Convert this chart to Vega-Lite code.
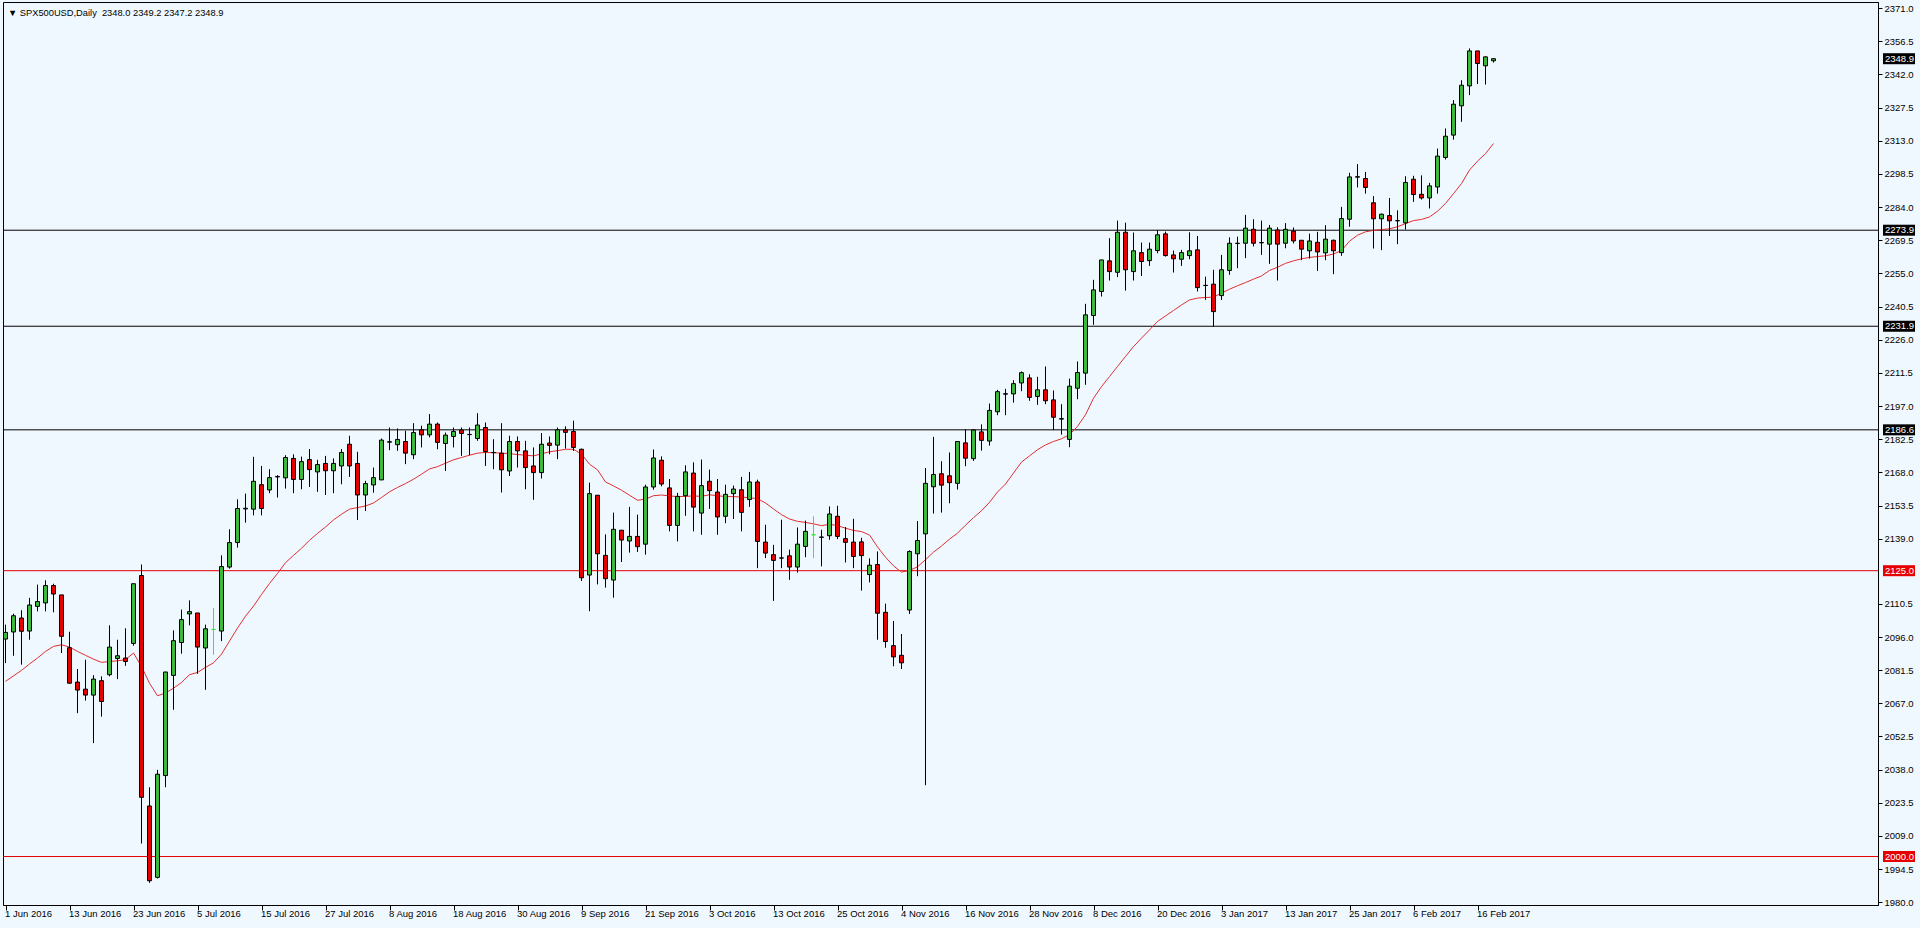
{
  "$schema": "https://vega.github.io/schema/vega-lite/v6.json",
  "width": 1875,
  "height": 903,
  "autosize": {"type": "none"},
  "padding": {"left": 3, "top": 2, "right": 42, "bottom": 23},
  "background": "#F0F8FF",
  "config": {
    "view": {"stroke": "black", "strokeWidth": 1, "fill": "#F0F8FF"},
    "font": "Liberation Sans",
    "scale": {"continuousPadding": 0},
    "axis": {"title": null, "grid": false, "labelOverlap": false, "labelSeparation": 0, "labelFlush": false}
  },
  "title": {
    "text": "▼ SPX500USD,Daily\u00a0\u00a02348.0 2349.2 2347.2 2348.9",
    "anchor": "start",
    "frame": "group",
    "orient": "top",
    "baseline": "top",
    "offset": -16,
    "dx": 5,
    "font": "Liberation Sans",
    "fontSize": 9.3,
    "fontWeight": "normal",
    "color": "black"
  },
  "datasets": {
    "bars": [
      {"i":0,"o":2095.1,"h":2101.4,"l":2084.6,"c":2098.0,"ma":2076.6},
      {"i":1,"o":2098.2,"h":2106.2,"l":2087.8,"c":2105.3,"ma":2079.0},
      {"i":2,"o":2104.3,"h":2107.7,"l":2083.9,"c":2098.5,"ma":2081.4},
      {"i":3,"o":2098.6,"h":2113.1,"l":2094.8,"c":2110.0,"ma":2084.2},
      {"i":4,"o":2109.4,"h":2118.9,"l":2107.2,"c":2111.5,"ma":2086.8},
      {"i":5,"o":2110.9,"h":2120.8,"l":2107.2,"c":2118.5,"ma":2089.7},
      {"i":6,"o":2118.5,"h":2119.3,"l":2106.8,"c":2114.8,"ma":2091.9},
      {"i":7,"o":2114.4,"h":2114.4,"l":2089.0,"c":2096.3,"ma":2092.6},
      {"i":8,"o":2091.3,"h":2098.3,"l":2075.5,"c":2075.8,"ma":2091.6},
      {"i":9,"o":2076.3,"h":2082.0,"l":2062.7,"c":2072.8,"ma":2089.7},
      {"i":10,"o":2073.2,"h":2086.1,"l":2068.2,"c":2070.6,"ma":2088.0},
      {"i":11,"o":2070.6,"h":2079.3,"l":2049.6,"c":2077.6,"ma":2086.3},
      {"i":12,"o":2076.9,"h":2078.8,"l":2061.2,"c":2067.8,"ma":2084.9},
      {"i":13,"o":2079.5,"h":2101.1,"l":2078.8,"c":2091.6,"ma":2085.3},
      {"i":14,"o":2086.6,"h":2094.8,"l":2077.6,"c":2087.8,"ma":2085.6},
      {"i":15,"o":2086.8,"h":2099.8,"l":2083.4,"c":2085.3,"ma":2086.1},
      {"i":16,"o":2093.2,"h":2119.3,"l":2092.2,"c":2119.3,"ma":2089.0},
      {"i":17,"o":2122.9,"h":2127.7,"l":2005.7,"c":2025.9,"ma":2083.1},
      {"i":18,"o":2022.1,"h":2030.3,"l":1988.5,"c":1989.4,"ma":2075.8},
      {"i":19,"o":1990.9,"h":2037.9,"l":1990.4,"c":2036.0,"ma":2070.3},
      {"i":20,"o":2035.4,"h":2080.7,"l":2030.3,"c":2080.7,"ma":2071.5},
      {"i":21,"o":2079.2,"h":2098.9,"l":2064.2,"c":2094.4,"ma":2073.6},
      {"i":22,"o":2093.6,"h":2108.0,"l":2088.7,"c":2103.6,"ma":2076.1},
      {"i":23,"o":2106.1,"h":2112.0,"l":2101.1,"c":2107.1,"ma":2079.5},
      {"i":24,"o":2106.5,"h":2106.5,"l":2079.9,"c":2091.6,"ma":2080.5},
      {"i":25,"o":2091.2,"h":2101.4,"l":2072.9,"c":2099.6,"ma":2082.7},
      {"i":26,"o":2099.3,"h":2108.7,"l":2088.2,"c":2099.3,"ma":2084.7},
      {"i":27,"o":2098.6,"h":2131.7,"l":2094.2,"c":2126.8,"ma":2088.5},
      {"i":28,"o":2126.6,"h":2143.1,"l":2125.9,"c":2137.3,"ma":2094.2},
      {"i":29,"o":2137.3,"h":2156.2,"l":2135.1,"c":2152.2,"ma":2099.9},
      {"i":30,"o":2152.0,"h":2158.7,"l":2146.0,"c":2152.3,"ma":2105.1},
      {"i":31,"o":2151.9,"h":2174.8,"l":2149.2,"c":2164.1,"ma":2109.5},
      {"i":32,"o":2162.6,"h":2170.8,"l":2149.2,"c":2152.2,"ma":2114.6},
      {"i":33,"o":2160.3,"h":2169.4,"l":2158.9,"c":2165.7,"ma":2119.4},
      {"i":34,"o":2166.0,"h":2166.8,"l":2157.0,"c":2166.2,"ma":2123.8},
      {"i":35,"o":2165.6,"h":2175.5,"l":2160.9,"c":2174.5,"ma":2128.5},
      {"i":36,"o":2174.1,"h":2175.9,"l":2158.9,"c":2164.9,"ma":2131.7},
      {"i":37,"o":2164.9,"h":2174.9,"l":2160.6,"c":2172.7,"ma":2134.8},
      {"i":38,"o":2173.6,"h":2178.2,"l":2161.6,"c":2169.2,"ma":2138.3},
      {"i":39,"o":2168.2,"h":2173.5,"l":2159.5,"c":2171.4,"ma":2141.3},
      {"i":40,"o":2171.9,"h":2175.2,"l":2158.1,"c":2168.7,"ma":2144.1},
      {"i":41,"o":2168.7,"h":2174.1,"l":2158.9,"c":2171.9,"ma":2147.2},
      {"i":42,"o":2170.8,"h":2178.2,"l":2162.8,"c":2176.7,"ma":2149.7},
      {"i":43,"o":2180.3,"h":2184.0,"l":2166.0,"c":2170.8,"ma":2151.9},
      {"i":44,"o":2171.9,"h":2177.0,"l":2147.2,"c":2158.1,"ma":2152.6},
      {"i":45,"o":2158.1,"h":2164.3,"l":2151.1,"c":2163.1,"ma":2153.3},
      {"i":46,"o":2162.5,"h":2170.1,"l":2159.1,"c":2165.7,"ma":2154.6},
      {"i":47,"o":2164.7,"h":2182.8,"l":2164.7,"c":2182.1,"ma":2157.0},
      {"i":48,"o":2181.2,"h":2187.6,"l":2177.7,"c":2181.4,"ma":2159.5},
      {"i":49,"o":2180.1,"h":2187.2,"l":2177.4,"c":2182.4,"ma":2161.4},
      {"i":50,"o":2181.5,"h":2186.2,"l":2171.6,"c":2176.4,"ma":2163.1},
      {"i":51,"o":2175.7,"h":2189.5,"l":2173.8,"c":2185.4,"ma":2165.0},
      {"i":52,"o":2186.6,"h":2188.4,"l":2178.9,"c":2184.4,"ma":2167.2},
      {"i":53,"o":2184.4,"h":2193.5,"l":2183.3,"c":2189.1,"ma":2169.5},
      {"i":54,"o":2189.1,"h":2189.8,"l":2178.1,"c":2181.1,"ma":2170.5},
      {"i":55,"o":2180.6,"h":2185.4,"l":2168.6,"c":2184.3,"ma":2172.0},
      {"i":56,"o":2183.7,"h":2187.6,"l":2178.9,"c":2185.9,"ma":2173.5},
      {"i":57,"o":2186.5,"h":2187.6,"l":2175.2,"c":2185.0,"ma":2174.5},
      {"i":58,"o":2184.6,"h":2187.6,"l":2175.5,"c":2184.5,"ma":2175.5},
      {"i":59,"o":2182.8,"h":2193.9,"l":2181.8,"c":2188.7,"ma":2176.4},
      {"i":60,"o":2187.6,"h":2189.8,"l":2170.8,"c":2177.1,"ma":2176.7},
      {"i":61,"o":2176.7,"h":2182.5,"l":2169.4,"c":2176.6,"ma":2176.6},
      {"i":62,"o":2176.4,"h":2189.5,"l":2159.2,"c":2169.1,"ma":2176.4},
      {"i":63,"o":2168.6,"h":2184.0,"l":2166.4,"c":2181.5,"ma":2176.2},
      {"i":64,"o":2181.5,"h":2183.7,"l":2170.1,"c":2177.4,"ma":2175.8},
      {"i":65,"o":2177.4,"h":2181.8,"l":2160.6,"c":2170.1,"ma":2175.5},
      {"i":66,"o":2170.8,"h":2178.9,"l":2156.0,"c":2167.9,"ma":2175.2},
      {"i":67,"o":2167.9,"h":2185.2,"l":2165.3,"c":2180.3,"ma":2176.1},
      {"i":68,"o":2180.8,"h":2183.7,"l":2175.9,"c":2179.8,"ma":2177.0},
      {"i":69,"o":2179.9,"h":2187.6,"l":2173.8,"c":2186.6,"ma":2177.5},
      {"i":70,"o":2186.6,"h":2188.1,"l":2178.4,"c":2185.5,"ma":2178.1},
      {"i":71,"o":2185.9,"h":2190.6,"l":2177.4,"c":2178.9,"ma":2178.1},
      {"i":72,"o":2178.1,"h":2178.4,"l":2120.5,"c":2121.9,"ma":2176.0},
      {"i":73,"o":2123.1,"h":2163.5,"l":2107.3,"c":2158.7,"ma":2171.6},
      {"i":74,"o":2158.0,"h":2158.0,"l":2119.0,"c":2132.4,"ma":2169.1},
      {"i":75,"o":2131.7,"h":2140.9,"l":2117.6,"c":2121.5,"ma":2163.8},
      {"i":76,"o":2120.9,"h":2150.4,"l":2113.2,"c":2143.1,"ma":2162.1},
      {"i":77,"o":2142.7,"h":2142.7,"l":2128.8,"c":2138.4,"ma":2160.2},
      {"i":78,"o":2138.0,"h":2152.9,"l":2132.9,"c":2140.0,"ma":2158.0},
      {"i":79,"o":2140.0,"h":2149.5,"l":2133.2,"c":2135.5,"ma":2155.8},
      {"i":80,"o":2136.6,"h":2162.6,"l":2132.0,"c":2161.6,"ma":2156.3},
      {"i":81,"o":2161.6,"h":2178.0,"l":2160.4,"c":2174.3,"ma":2157.8},
      {"i":82,"o":2173.3,"h":2175.0,"l":2161.9,"c":2162.9,"ma":2158.1},
      {"i":83,"o":2161.2,"h":2165.1,"l":2142.2,"c":2144.8,"ma":2157.7},
      {"i":84,"o":2144.8,"h":2159.0,"l":2137.8,"c":2157.5,"ma":2157.4},
      {"i":85,"o":2157.8,"h":2171.1,"l":2149.0,"c":2168.2,"ma":2157.5},
      {"i":86,"o":2167.7,"h":2172.4,"l":2142.2,"c":2152.8,"ma":2157.7},
      {"i":87,"o":2150.2,"h":2173.6,"l":2140.7,"c":2162.2,"ma":2157.5},
      {"i":88,"o":2164.1,"h":2169.2,"l":2152.0,"c":2160.0,"ma":2158.2},
      {"i":89,"o":2159.4,"h":2165.1,"l":2140.7,"c":2148.5,"ma":2157.8},
      {"i":90,"o":2148.8,"h":2162.6,"l":2145.8,"c":2158.4,"ma":2157.4},
      {"i":91,"o":2158.7,"h":2162.2,"l":2147.6,"c":2160.7,"ma":2157.4},
      {"i":92,"o":2160.4,"h":2166.0,"l":2142.2,"c":2150.5,"ma":2157.2},
      {"i":93,"o":2156.1,"h":2168.2,"l":2152.9,"c":2163.8,"ma":2156.9},
      {"i":94,"o":2163.8,"h":2164.8,"l":2126.1,"c":2137.8,"ma":2156.5},
      {"i":95,"o":2137.5,"h":2145.1,"l":2130.5,"c":2132.7,"ma":2154.6},
      {"i":96,"o":2132.0,"h":2136.3,"l":2111.8,"c":2129.5,"ma":2152.0},
      {"i":97,"o":2130.5,"h":2147.3,"l":2126.1,"c":2130.6,"ma":2149.5},
      {"i":98,"o":2131.5,"h":2134.2,"l":2121.0,"c":2126.6,"ma":2147.6},
      {"i":99,"o":2126.6,"h":2143.9,"l":2124.2,"c":2136.6,"ma":2146.6},
      {"i":100,"o":2135.6,"h":2146.9,"l":2130.9,"c":2142.2,"ma":2146.1},
      {"i":101,"o":2140.7,"h":2148.8,"l":2130.5,"c":2140.7,"ma":2145.5},
      {"i":102,"o":2139.7,"h":2142.9,"l":2126.9,"c":2139.6,"ma":2144.7},
      {"i":103,"o":2140.3,"h":2153.1,"l":2138.5,"c":2149.8,"ma":2145.3},
      {"i":104,"o":2148.8,"h":2153.4,"l":2138.8,"c":2140.0,"ma":2144.7},
      {"i":105,"o":2139.0,"h":2144.1,"l":2128.6,"c":2137.4,"ma":2143.6},
      {"i":106,"o":2137.5,"h":2147.7,"l":2126.1,"c":2131.2,"ma":2142.6},
      {"i":107,"o":2137.6,"h":2139.4,"l":2116.3,"c":2131.6,"ma":2142.1},
      {"i":108,"o":2123.3,"h":2130.4,"l":2119.9,"c":2127.4,"ma":2140.6},
      {"i":109,"o":2127.7,"h":2133.4,"l":2094.8,"c":2106.4,"ma":2135.4},
      {"i":110,"o":2106.8,"h":2110.6,"l":2091.3,"c":2094.0,"ma":2130.9},
      {"i":111,"o":2092.2,"h":2103.0,"l":2083.2,"c":2087.3,"ma":2127.1},
      {"i":112,"o":2088.0,"h":2097.3,"l":2082.0,"c":2084.7,"ma":2124.4},
      {"i":113,"o":2107.8,"h":2133.9,"l":2106.1,"c":2133.4,"ma":2125.1},
      {"i":114,"o":2132.4,"h":2146.7,"l":2122.6,"c":2138.2,"ma":2126.7},
      {"i":115,"o":2141.1,"h":2169.9,"l":2031.2,"c":2163.2,"ma":2129.8},
      {"i":116,"o":2161.7,"h":2183.5,"l":2150.0,"c":2167.1,"ma":2133.1},
      {"i":117,"o":2167.4,"h":2172.9,"l":2150.4,"c":2162.4,"ma":2135.8},
      {"i":118,"o":2166.5,"h":2176.7,"l":2154.5,"c":2163.5,"ma":2138.8},
      {"i":119,"o":2163.2,"h":2181.5,"l":2160.5,"c":2181.5,"ma":2141.4},
      {"i":120,"o":2180.9,"h":2186.9,"l":2170.7,"c":2174.2,"ma":2144.9},
      {"i":121,"o":2174.0,"h":2186.9,"l":2173.0,"c":2186.5,"ma":2148.2},
      {"i":122,"o":2185.7,"h":2189.0,"l":2177.5,"c":2182.0,"ma":2151.2},
      {"i":123,"o":2181.7,"h":2198.1,"l":2179.7,"c":2195.1,"ma":2154.9},
      {"i":124,"o":2194.5,"h":2204.1,"l":2193.0,"c":2203.3,"ma":2159.4},
      {"i":125,"o":2202.2,"h":2204.5,"l":2193.0,"c":2202.4,"ma":2162.9},
      {"i":126,"o":2202.3,"h":2208.3,"l":2198.5,"c":2206.8,"ma":2167.7},
      {"i":127,"o":2207.1,"h":2212.1,"l":2203.5,"c":2211.6,"ma":2172.5},
      {"i":128,"o":2209.3,"h":2210.9,"l":2199.3,"c":2200.8,"ma":2175.2},
      {"i":129,"o":2201.2,"h":2209.8,"l":2197.5,"c":2204.1,"ma":2177.9},
      {"i":130,"o":2204.1,"h":2214.3,"l":2197.8,"c":2199.3,"ma":2180.0},
      {"i":131,"o":2199.7,"h":2203.8,"l":2186.5,"c":2192.1,"ma":2181.5},
      {"i":132,"o":2191.3,"h":2197.8,"l":2184.5,"c":2191.5,"ma":2182.7},
      {"i":133,"o":2182.4,"h":2209.0,"l":2179.0,"c":2205.7,"ma":2184.5},
      {"i":134,"o":2204.8,"h":2216.5,"l":2200.0,"c":2211.7,"ma":2188.1},
      {"i":135,"o":2211.4,"h":2241.7,"l":2206.3,"c":2236.9,"ma":2193.2},
      {"i":136,"o":2236.6,"h":2252.2,"l":2232.5,"c":2247.8,"ma":2200.4},
      {"i":137,"o":2247.1,"h":2260.9,"l":2244.9,"c":2260.9,"ma":2205.5},
      {"i":138,"o":2260.5,"h":2270.4,"l":2251.9,"c":2255.8,"ma":2209.9},
      {"i":139,"o":2255.5,"h":2278.1,"l":2253.4,"c":2273.0,"ma":2214.3},
      {"i":140,"o":2273.0,"h":2277.2,"l":2247.5,"c":2256.6,"ma":2218.7},
      {"i":141,"o":2255.8,"h":2272.9,"l":2251.9,"c":2264.9,"ma":2223.0},
      {"i":142,"o":2264.1,"h":2268.5,"l":2253.9,"c":2260.2,"ma":2226.7},
      {"i":143,"o":2260.6,"h":2268.5,"l":2258.3,"c":2265.6,"ma":2230.3},
      {"i":144,"o":2265.0,"h":2274.0,"l":2263.8,"c":2271.9,"ma":2234.0},
      {"i":145,"o":2272.3,"h":2273.3,"l":2262.4,"c":2262.8,"ma":2236.4},
      {"i":146,"o":2263.1,"h":2265.0,"l":2255.4,"c":2261.4,"ma":2238.8},
      {"i":147,"o":2261.2,"h":2265.3,"l":2258.3,"c":2264.1,"ma":2241.2},
      {"i":148,"o":2262.8,"h":2273.0,"l":2261.2,"c":2264.9,"ma":2243.4},
      {"i":149,"o":2265.3,"h":2271.4,"l":2247.1,"c":2248.8,"ma":2244.2},
      {"i":150,"o":2249.8,"h":2253.6,"l":2243.4,"c":2249.7,"ma":2244.5},
      {"i":151,"o":2250.3,"h":2256.6,"l":2231.8,"c":2238.3,"ma":2244.6},
      {"i":152,"o":2245.3,"h":2263.1,"l":2243.4,"c":2256.6,"ma":2246.4},
      {"i":153,"o":2256.3,"h":2270.8,"l":2254.4,"c":2268.2,"ma":2248.1},
      {"i":154,"o":2268.1,"h":2271.1,"l":2257.3,"c":2268.2,"ma":2249.6},
      {"i":155,"o":2268.2,"h":2280.6,"l":2261.7,"c":2274.8,"ma":2251.0},
      {"i":156,"o":2274.3,"h":2278.7,"l":2266.8,"c":2268.2,"ma":2252.5},
      {"i":157,"o":2268.4,"h":2278.1,"l":2263.1,"c":2268.5,"ma":2253.9},
      {"i":158,"o":2267.8,"h":2276.2,"l":2259.2,"c":2274.8,"ma":2256.3},
      {"i":159,"o":2274.0,"h":2275.2,"l":2251.9,"c":2267.8,"ma":2257.7},
      {"i":160,"o":2268.2,"h":2277.0,"l":2266.0,"c":2274.3,"ma":2259.4},
      {"i":161,"o":2273.5,"h":2275.1,"l":2268.1,"c":2269.2,"ma":2260.5},
      {"i":162,"o":2269.5,"h":2269.5,"l":2260.8,"c":2265.6,"ma":2261.4},
      {"i":163,"o":2264.9,"h":2272.4,"l":2261.5,"c":2269.2,"ma":2262.0},
      {"i":164,"o":2268.6,"h":2273.2,"l":2256.1,"c":2264.4,"ma":2262.4},
      {"i":165,"o":2264.0,"h":2276.1,"l":2260.8,"c":2270.0,"ma":2262.7},
      {"i":166,"o":2269.5,"h":2269.8,"l":2254.7,"c":2264.9,"ma":2263.5},
      {"i":167,"o":2264.1,"h":2284.1,"l":2262.7,"c":2279.0,"ma":2265.0},
      {"i":168,"o":2278.7,"h":2299.0,"l":2275.4,"c":2297.2,"ma":2269.1},
      {"i":169,"o":2297.1,"h":2302.8,"l":2292.6,"c":2297.3,"ma":2271.7},
      {"i":170,"o":2296.5,"h":2299.4,"l":2289.9,"c":2292.6,"ma":2273.2},
      {"i":171,"o":2285.9,"h":2288.8,"l":2265.9,"c":2278.9,"ma":2273.8},
      {"i":172,"o":2278.9,"h":2281.2,"l":2265.2,"c":2280.9,"ma":2274.2},
      {"i":173,"o":2280.3,"h":2288.0,"l":2271.4,"c":2278.0,"ma":2274.5},
      {"i":174,"o":2278.0,"h":2282.6,"l":2267.8,"c":2278.1,"ma":2275.4},
      {"i":175,"o":2277.1,"h":2297.5,"l":2274.2,"c":2294.8,"ma":2276.8},
      {"i":176,"o":2296.2,"h":2297.7,"l":2286.3,"c":2289.5,"ma":2278.1},
      {"i":177,"o":2289.6,"h":2297.9,"l":2287.3,"c":2288.0,"ma":2278.6},
      {"i":178,"o":2288.0,"h":2294.6,"l":2283.4,"c":2293.3,"ma":2279.7},
      {"i":179,"o":2292.8,"h":2309.6,"l":2289.9,"c":2306.3,"ma":2282.2},
      {"i":180,"o":2305.7,"h":2318.4,"l":2304.8,"c":2315.0,"ma":2285.6},
      {"i":181,"o":2315.5,"h":2330.8,"l":2313.5,"c":2329.0,"ma":2289.9},
      {"i":182,"o":2328.3,"h":2339.5,"l":2321.3,"c":2337.3,"ma":2294.3},
      {"i":183,"o":2337.0,"h":2353.4,"l":2333.0,"c":2352.3,"ma":2300.2},
      {"i":184,"o":2352.3,"h":2352.3,"l":2337.8,"c":2346.8,"ma":2304.1},
      {"i":185,"o":2345.8,"h":2350.0,"l":2337.6,"c":2349.7,"ma":2307.4},
      {"i":186,"o":2348.0,"h":2349.2,"l":2347.2,"c":2348.9,"ma":2311.8}
    ],
    "levels": [
      {"p": 2273.9, "k": "b"},
      {"p": 2231.9, "k": "b"},
      {"p": 2186.6, "k": "b"},
      {"p": 2125.0, "k": "r"},
      {"p": 2000.0, "k": "r"}
    ],
    "tags": [
      {"p": 2348.9, "k": "b"},
      {"p": 2273.9, "k": "b"},
      {"p": 2231.9, "k": "b"},
      {"p": 2186.6, "k": "b"},
      {"p": 2125.0, "k": "r"},
      {"p": 2000.0, "k": "r"}
    ]
  },
  "layer": [
    {
      "data": {"name": "levels"},
      "mark": {"type": "rule", "strokeWidth": 1},
      "encoding": {
        "y": {
          "field": "p", "type": "quantitative",
          "scale": {"domain": [1978.8, 2373.7], "nice": false, "zero": false, "padding": 0},
          "axis": {
            "orient": "right", "title": null, "grid": false, "tickCount": 40,
            "values": [1980.0,1994.5,2009.0,2023.5,2038.0,2052.5,2067.0,2081.5,2096.0,2110.5,2139.0,2153.5,2168.0,2182.5,2197.0,2211.5,2226.0,2240.5,2255.0,2269.5,2284.0,2298.5,2313.0,2327.5,2342.0,2356.5,2371.0],
            "format": ".1f",
            "labelAlign": "left", "labelBaseline": "middle", "labelPadding": 2,
            "tickSize": 4, "tickColor": "#000000", "domainColor": "#000000",
            "labelFont": "Liberation Sans", "labelFontSize": 9.5, "labelColor": "#000000",
            "labelOverlap": false, "labelFlush": false
          }
        },
        "color": {"condition": {"test": "datum.k == 'r'", "value": "#E00000"}, "value": "#000000"}
      }
    },
    {
      "data": {"name": "bars"},
      "mark": {"type": "line", "strokeWidth": 1, "color": "#DD3030", "interpolate": "linear"},
      "encoding": {
        "x": {
          "field": "i", "type": "quantitative",
          "scale": {"domain": [-0.3125, 234.0625], "nice": false, "zero": false, "padding": 0},
          "axis": {
            "orient": "bottom", "title": null, "grid": false, "tickCount": 40,
            "values": [0,8,16,24,32,40,48,56,64,72,80,88,96,104,112,120,128,136,144,152,160,168,176,184],
            "labelExpr": "['1 Jun 2016','13 Jun 2016','23 Jun 2016','5 Jul 2016','15 Jul 2016','27 Jul 2016','8 Aug 2016','18 Aug 2016','30 Aug 2016','9 Sep 2016','21 Sep 2016','3 Oct 2016','13 Oct 2016','25 Oct 2016','4 Nov 2016','16 Nov 2016','28 Nov 2016','8 Dec 2016','20 Dec 2016','3 Jan 2017','13 Jan 2017','25 Jan 2017','6 Feb 2017','16 Feb 2017'][round(datum.value/8)]",
            "labelAlign": "left", "labelBaseline": "middle", "labelPadding": 3.5, "labelOffset": -1,
            "tickSize": 5, "tickColor": "#000000", "domainColor": "#000000",
            "labelFont": "Liberation Sans", "labelFontSize": 9.5, "labelColor": "#000000",
            "labelOverlap": false, "labelFlush": false
          }
        },
        "y": {"field": "ma", "type": "quantitative", "scale": {"domain": [1978.8, 2373.7], "nice": false, "zero": false, "padding": 0}}
      }
    },
    {
      "data": {"name": "bars"},
      "mark": {"type": "rule", "strokeWidth": 1},
      "encoding": {
        "x": {"field": "i", "type": "quantitative", "scale": {"domain": [-0.3125, 234.0625], "nice": false, "zero": false, "padding": 0}},
        "y": {"field": "l", "type": "quantitative", "scale": {"domain": [1978.8, 2373.7], "nice": false, "zero": false, "padding": 0}},
        "y2": {"field": "h"},
        "color": {"condition": {"test": "datum.o == datum.c", "value": "#33EE33"}, "value": "#000000"}
      }
    },
    {
      "data": {"name": "bars"},
      "mark": {"type": "bar", "size": 4, "strokeWidth": 1},
      "encoding": {
        "x": {"field": "i", "type": "quantitative", "scale": {"domain": [-0.3125, 234.0625], "nice": false, "zero": false, "padding": 0}},
        "y": {"field": "o", "type": "quantitative", "scale": {"domain": [1978.8, 2373.7], "nice": false, "zero": false, "padding": 0}},
        "y2": {"field": "c"},
        "fill": {"condition": [{"test": "datum.o == datum.c", "value": "#33EE33"}, {"test": "datum.c > datum.o", "value": "#3CB83C"}], "value": "#E60000"},
        "stroke": {"condition": {"test": "datum.o == datum.c", "value": "#33EE33"}, "value": "#000000"}
      }
    },
    {
      "data": {"name": "tags"},
      "mark": {"type": "bar", "size": 11},
      "encoding": {
        "x": {"datum": 234.6875, "type": "quantitative", "scale": {"domain": [-0.3125, 234.0625], "nice": false, "zero": false, "padding": 0}},
        "x2": {"datum": 238.6875},
        "y": {"field": "p", "type": "quantitative", "scale": {"domain": [1978.8, 2373.7], "nice": false, "zero": false, "padding": 0}},
        "fill": {"condition": {"test": "datum.k == 'r'", "value": "#E60000"}, "value": "#000000"}
      }
    },
    {
      "data": {"name": "tags"},
      "mark": {"type": "text", "align": "left", "baseline": "middle", "dx": 2, "font": "Liberation Sans", "fontSize": 9.5, "fill": "#FFFFFF"},
      "encoding": {
        "x": {"datum": 234.6875, "type": "quantitative", "scale": {"domain": [-0.3125, 234.0625], "nice": false, "zero": false, "padding": 0}},
        "y": {"field": "p", "type": "quantitative", "scale": {"domain": [1978.8, 2373.7], "nice": false, "zero": false, "padding": 0}},
        "text": {"field": "p", "type": "quantitative", "format": ".1f"}
      }
    }
  ]
}
